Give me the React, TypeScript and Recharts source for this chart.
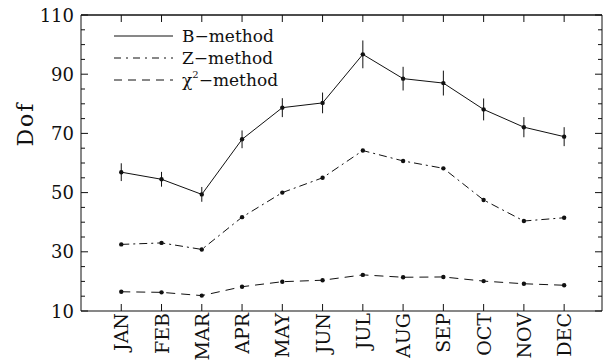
import React from 'react';
import { LineChart, Line, XAxis, YAxis, ErrorBar } from 'recharts';

const months = ['JAN', 'FEB', 'MAR', 'APR', 'MAY', 'JUN', 'JUL', 'AUG', 'SEP', 'OCT', 'NOV', 'DEC'];
const bMethod = [56.9, 54.5, 49.4, 68.0, 78.7, 80.3, 96.7, 88.5, 87.0, 78.1, 72.1, 68.9];
const bError = [3.0, 2.5, 2.5, 3.0, 3.2, 3.5, 4.7, 4.0, 4.2, 3.7, 3.4, 3.2];
const zMethod = [32.5, 33.0, 30.8, 41.7, 50.0, 55.0, 64.2, 60.7, 58.2, 47.5, 40.4, 41.5];
const chiMethod = [16.5, 16.3, 15.2, 18.2, 19.9, 20.4, 22.2, 21.4, 21.5, 20.1, 19.2, 18.7];
const yTicks = [10, 15, 20, 25, 30, 35, 40, 45, 50, 55, 60, 65, 70, 75, 80, 85, 90, 95, 100, 105, 110];
const yLabels = [10, 30, 50, 70, 90, 110];
const xTicks = [1, 2, 3, 4, 5, 6, 7, 8, 9, 10, 11, 12];

const data = months.map((m, i) => ({
  x: i + 1,
  month: m,
  b: bMethod[i],
  bErr: bError[i],
  z: zMethod[i],
  chi: chiMethod[i],
}));

const FONT = '"DejaVu Serif", "Liberation Serif", serif';
const INK = '#111';

const BottomTick = (props: any) => {
  const { x, y, payload } = props;
  const label = months[payload.value - 1] ?? '';
  return (
    <g>
      <line x1={x} x2={x} y1={y} y2={y - 7} stroke={INK} strokeWidth={1} />
      <text
        x={x}
        y={y + 2}
        transform={`rotate(-90, ${x}, ${y + 2})`}
        textAnchor="end"
        dominantBaseline="central"
        fontFamily={FONT}
        fontSize={19}
        fill={INK}
      >
        {label}
      </text>
    </g>
  );
};

const TopTick = (props: any) => {
  const { x, y } = props;
  return <line x1={x} x2={x} y1={y} y2={y + 7} stroke={INK} strokeWidth={1} />;
};

const LeftTick = (props: any) => {
  const { x, y, payload } = props;
  const v = payload.value;
  const major = yLabels.includes(v);
  return (
    <g>
      <line x1={x} x2={x + (major ? 7 : 4)} y1={y} y2={y} stroke={INK} strokeWidth={1} />
      {major && (
        <text
          x={x - 7}
          y={y}
          textAnchor="end"
          dominantBaseline="central"
          fontFamily={FONT}
          fontSize={18}
          fill={INK}
        >
          {v}
        </text>
      )}
    </g>
  );
};

const RightTick = (props: any) => {
  const { x, y, payload } = props;
  const major = yLabels.includes(payload.value);
  return <line x1={x} x2={x - (major ? 7 : 4)} y1={y} y2={y} stroke={INK} strokeWidth={1} />;
};

const Dot = (props: any) => {
  const { cx, cy } = props;
  if (cx == null || cy == null) return null;
  return <circle cx={cx} cy={cy} r={2.2} fill={INK} stroke="none" />;
};

const legendItems = [
  { label: 'B\u2212method', dash: undefined as string | undefined },
  { label: 'Z\u2212method', dash: '7 5 2 5' },
  { label: 'chi', dash: '8 6' },
];

export default function App() {
  return (
    <div style={{ position: 'absolute', left: 0, top: 0, width: 603, height: 360, background: '#fff' }}>
      <LineChart
        width={603}
        height={360}
        data={data}
        margin={{ top: 14, right: 0, bottom: 0, left: 0 }}
      >
        <XAxis
          dataKey="x"
          type="number"
          domain={[0, 12.94]}
          ticks={xTicks}
          interval={0}
          height={49}
          tickSize={0}
          tickMargin={0}
          tickLine={false}
          tick={<BottomTick />}
          axisLine={{ stroke: INK, strokeWidth: 1.2 }}
          allowDataOverflow
        />
        <XAxis
          xAxisId="top"
          dataKey="x"
          type="number"
          orientation="top"
          domain={[0, 12.94]}
          ticks={xTicks}
          interval={0}
          height={1}
          tickSize={0}
          tickMargin={0}
          tickLine={false}
          tick={<TopTick />}
          axisLine={{ stroke: INK, strokeWidth: 1.4 }}
          allowDataOverflow
        />
        <YAxis
          type="number"
          domain={[10, 110]}
          ticks={yTicks}
          interval={0}
          width={81}
          tickSize={0}
          tickMargin={0}
          tickLine={false}
          tick={<LeftTick />}
          axisLine={{ stroke: INK, strokeWidth: 1 }}
          allowDataOverflow
          label={{
            content: () => (
              <text
                x={25}
                y={124}
                transform="rotate(-90, 25, 124)"
                textAnchor="middle"
                dominantBaseline="central"
                fontFamily={FONT}
                fontSize={22}
                letterSpacing={2}
                fill={INK}
              >
                Dof
              </text>
            ),
          }}
        />
        <YAxis
          yAxisId="r"
          orientation="right"
          type="number"
          domain={[10, 110]}
          ticks={yTicks}
          interval={0}
          width={1}
          tickSize={0}
          tickMargin={0}
          tickLine={false}
          tick={<RightTick />}
          axisLine={{ stroke: INK, strokeWidth: 1 }}
          allowDataOverflow
        />
        <Line
          type="linear"
          dataKey="b"
          stroke={INK}
          strokeWidth={1}
          dot={<Dot />}
          activeDot={false}
          isAnimationActive={false}
        >
          <ErrorBar dataKey="bErr" width={0} stroke={INK} strokeWidth={1} direction="y" />
        </Line>
        <Line
          type="linear"
          dataKey="z"
          stroke={INK}
          strokeWidth={1}
          strokeDasharray="8 4 2 4"
          dot={<Dot />}
          activeDot={false}
          isAnimationActive={false}
        />
        <Line
          type="linear"
          dataKey="chi"
          stroke={INK}
          strokeWidth={1}
          strokeDasharray="9 6"
          dot={<Dot />}
          activeDot={false}
          isAnimationActive={false}
        />
      </LineChart>
      <div style={{ position: 'absolute', left: 113, top: 25, fontFamily: FONT, fontSize: 17, color: INK, lineHeight: '22px' }}>
        {legendItems.map((it, i) => (
          <div key={i} style={{ display: 'flex', alignItems: 'center', height: 22 }}>
            <svg width={62} height={22} style={{ display: 'block' }}>
              <line x1={1} x2={60} y1={11} y2={11} stroke={INK} strokeWidth={1} strokeDasharray={it.dash} />
            </svg>
            <span style={{ marginLeft: 7, whiteSpace: 'nowrap' }}>
              {it.label === 'chi' ? (
                <>
                  {'\u03c7'}
                  <sup style={{ fontSize: 10, verticalAlign: 'top', lineHeight: '10px', position: 'relative', top: 1 }}>2</sup>
                  {'\u2212method'}
                </>
              ) : (
                it.label
              )}
            </span>
          </div>
        ))}
      </div>
    </div>
  );
}
